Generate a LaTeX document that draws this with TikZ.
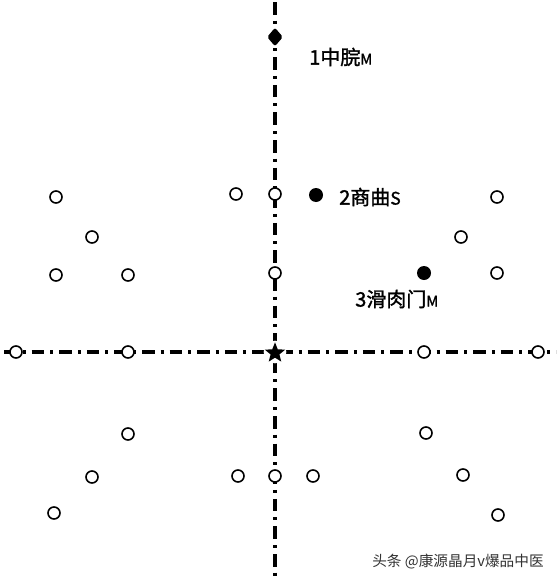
\documentclass[tikz,border=0pt]{standalone}
\usepackage{fontspec}
\newfontfamily\cjk[FakeBold=1.5]{Noto Sans CJK SC}
\newfontfamily\cjkw{Noto Sans CJK SC}
\usetikzlibrary{shapes.geometric}
\begin{document}
\begin{tikzpicture}[x=0.75pt,y=-0.75pt,
  axis/.style={line width=2.3pt, dash pattern=on 9.5pt off 4.5pt on 2.2pt off 4.5pt},
  opendot/.style={circle, draw, line width=1.2pt, fill=white, minimum size=9pt, inner sep=0pt},
  fulldot/.style={circle, fill=black, minimum size=10.5pt, inner sep=0pt},
  lab/.style={font=\cjk\fontsize{15}{17}\selectfont, anchor=west, inner sep=0pt},
  wm/.style={font=\cjkw\fontsize{11}{13}\selectfont, text=black!80, anchor=west, inner sep=0pt}]
\useasboundingbox (0,0) rectangle (558,578);
% axes
\coordinate (vt) at (275,2);
\coordinate (vb) at (275,578);
\coordinate (hl) at (4,352);
\coordinate (hr) at (556,352);
\draw[axis] (vt) -- (vb);
\draw[axis] (hl) -- (hr);
% centre star
\node (cbg) [circle, fill=white, minimum size=17pt, inner sep=0pt] at (275,352) {};
\node (c) [star, star points=5, star point ratio=2.3, fill=black, minimum size=16pt, inner sep=0pt] at (275,353) {};
% filled acupoints
\node (p1) [diamond, fill=black, minimum width=12pt, minimum height=14pt, inner sep=0pt, rounded corners=1.5pt] at (275,37) {};
\node (p2) [fulldot] at (316,195) {};
\node (p3) [fulldot] at (424,273) {};
\node (l1) [lab] at (309,57) {1中脘{\fontsize{11}{12}\selectfont M}};
\node (l2) [lab] at (339,197) {2商曲{\fontsize{13}{14}\selectfont S}};
\node (l3) [lab] at (355,299) {3滑肉门{\fontsize{11}{12}\selectfont M}};
% open points
\foreach \n/\x/\y in {a1/56/197, a2/92/237, a3/56/275, a4/128/275,
  b1/236/194, b2/275/194, b3/275/273,
  c1/497/197, c2/461/237, c3/497/273,
  d1/16/352, d2/128/352, d3/424/352, d4/538/352,
  e1/128/434, e2/92/477, e3/54/513,
  f1/238/476, f2/275/476, f3/313/476,
  g1/426/433, g2/463/475, g3/498/515}
  \node (\n) [opendot] at (\x,\y) {};
% watermark
\node (w) [wm] at (372,562) {头条 @康源晶月v爆品中医};
\end{tikzpicture}
\end{document}
